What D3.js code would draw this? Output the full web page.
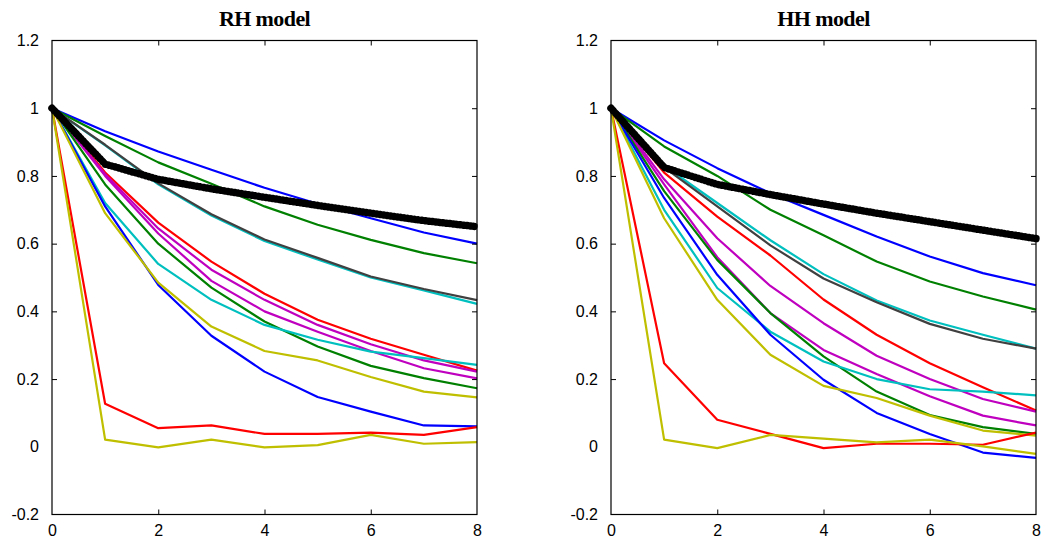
<!DOCTYPE html>
<html><head><meta charset="utf-8">
<script src="https://cdn.jsdelivr.net/npm/d3@7"></script>
<style>body{margin:0;background:#fff}</style>
</head><body><svg id="c" width="1045" height="540"></svg>
<script>
const steps = [0,1,2,3,4,5,6,7,8];
const xTicks = [0,2,4,6,8];
const yTicks = [-0.2,0,0.2,0.4,0.6,0.8,1,1.2];
const titles = ["RH model","HH model"];
const seriesNames = ["blue1","green1","cyan1","gray","red1","mag1","mag2","green2","cyan2","blue2","yellow1","red2","yellow2"];
const seriesColors = ["#0000ff","#008000","#00bfbf","#404040","#ff0000","#bf00bf","#bf00bf","#008000","#00bfbf","#0000ff","#bfbf00","#ff0000","#bfbf00"];

// RH model
const rhBlack  = [1,0.835,0.79,0.762,0.737,0.713,0.69,0.668,0.65];
const rhBlue1  = [1,0.932,0.872,0.818,0.765,0.718,0.675,0.633,0.60];
const rhGreen1 = [1,0.918,0.84,0.777,0.71,0.656,0.611,0.572,0.542];
const rhCyan1  = [1,0.89,0.775,0.683,0.608,0.553,0.50,0.462,0.422];
const rhGray   = [1,0.892,0.778,0.687,0.612,0.558,0.503,0.466,0.433];
const rhRed1   = [1,0.81,0.662,0.547,0.452,0.375,0.319,0.272,0.225];
const rhMag1   = [1,0.805,0.645,0.523,0.434,0.36,0.303,0.255,0.222];
const rhMag2   = [1,0.80,0.63,0.49,0.40,0.34,0.283,0.232,0.202];
const rhGreen2 = [1,0.775,0.60,0.47,0.37,0.296,0.239,0.203,0.173];
const rhCyan2  = [1,0.72,0.54,0.434,0.36,0.316,0.281,0.262,0.242];
const rhBlue2  = [1,0.71,0.478,0.328,0.222,0.147,0.104,0.063,0.06];
const rhYel1   = [1,0.69,0.485,0.355,0.283,0.255,0.206,0.163,0.146];
const rhRed2   = [1,0.127,0.055,0.063,0.038,0.038,0.042,0.035,0.058];
const rhYel2   = [1,0.021,-0.002,0.021,-0.002,0.005,0.035,0.009,0.014];

// HH model
const hhBlack  = [1,0.825,0.775,0.745,0.717,0.69,0.665,0.64,0.615];
const hhBlue1  = [1,0.905,0.823,0.749,0.685,0.621,0.562,0.513,0.477];
const hhGreen1 = [1,0.887,0.80,0.70,0.625,0.547,0.488,0.444,0.405];
const hhCyan1  = [1,0.83,0.72,0.61,0.51,0.432,0.373,0.331,0.29];
const hhGray   = [1,0.825,0.71,0.595,0.497,0.427,0.363,0.319,0.29];
const hhRed1   = [1,0.81,0.68,0.565,0.435,0.331,0.247,0.176,0.107];
const hhMag1   = [1,0.79,0.616,0.475,0.365,0.269,0.20,0.141,0.104];
const hhMag2   = [1,0.775,0.56,0.395,0.286,0.215,0.149,0.092,0.063];
const hhGreen2 = [1,0.755,0.552,0.395,0.267,0.163,0.094,0.058,0.038];
const hhCyan2  = [1,0.70,0.469,0.34,0.252,0.20,0.17,0.163,0.152];
const hhBlue2  = [1,0.735,0.508,0.331,0.198,0.10,0.038,-0.017,-0.033];
const hhYel1   = [1,0.675,0.434,0.272,0.18,0.144,0.092,0.048,0.033];
const hhRed2   = [1,0.247,0.08,0.038,-0.004,0.009,0.009,0.006,0.042];
const hhYel2   = [1,0.021,-0.004,0.035,0.024,0.013,0.021,0.001,-0.021];

const panels = [
  {title: titles[0], left: 52, black: rhBlack,
   lines: [rhBlue1,rhGreen1,rhCyan1,rhGray,rhRed1,rhMag1,rhMag2,rhGreen2,rhCyan2,rhBlue2,rhYel1,rhRed2,rhYel2]},
  {title: titles[1], left: 611, black: hhBlack,
   lines: [hhBlue1,hhGreen1,hhCyan1,hhGray,hhRed1,hhMag1,hhMag2,hhGreen2,hhCyan2,hhBlue2,hhYel1,hhRed2,hhYel2]}
];

const svg = d3.select("#c");
const W = 425, plotTop = 40.5, plotBottom = 514.5;
const y = d3.scaleLinear().domain([-0.2,1.2]).range([plotBottom, plotTop]);

panels.forEach(p => {
  const x = d3.scaleLinear().domain([0,8]).range([p.left, p.left + W]);
  const g = svg.append("g");
  const line = d3.line().x((d,i)=>x(steps[i])).y(d=>y(d));

  p.lines.forEach((s,k) => {
    g.append("path").attr("d", line(s)).attr("fill","none")
      .attr("stroke", seriesColors[k]).attr("stroke-width", 2.2)
      .attr("stroke-linejoin","round");
  });
  g.append("path").attr("d", line(p.black)).attr("fill","none")
    .attr("stroke","#000").attr("stroke-width",5.5).attr("stroke-linejoin","round");
  g.append("path").attr("d", line(p.black)).attr("fill","none")
    .attr("stroke","#000").attr("stroke-width",7.5).attr("stroke-linecap","round")
    .attr("stroke-dasharray","0.1 3.4");

  g.append("rect").attr("x", p.left).attr("y", plotTop).attr("width", W).attr("height", plotBottom-plotTop)
    .attr("fill","none").attr("stroke","#000").attr("stroke-width",1.2);

  const fontFam = "'Liberation Sans', Arial, sans-serif";
  const ax = [
    g.append("g").attr("transform",`translate(0,${plotBottom})`).call(d3.axisBottom(x).tickValues(xTicks).tickSize(-5).tickPadding(10).tickFormat(d3.format("d"))),
    g.append("g").attr("transform",`translate(0,${plotTop})`).call(d3.axisTop(x).tickValues(xTicks).tickSize(-5).tickFormat("")),
    g.append("g").attr("transform",`translate(${p.left},0)`).call(d3.axisLeft(y).tickValues(yTicks).tickSize(-5).tickPadding(13).tickFormat(d => String(+d.toFixed(1)))),
    g.append("g").attr("transform",`translate(${p.left+W},0)`).call(d3.axisRight(y).tickValues(yTicks).tickSize(-5).tickFormat(""))
  ];
  ax.forEach(a => {
    a.select(".domain").remove();
    a.selectAll(".tick line").attr("stroke","#000").attr("stroke-width",1);
    a.selectAll("text").attr("font-family", fontFam).attr("font-size","16px").attr("fill","#000");
  });
  ax.forEach(a => a.selectAll(".tick").filter(d => d===0 || d===8 || Math.abs(d-1.2)<1e-9 || Math.abs(d+0.2)<1e-9).select("line").remove());

  g.append("text").attr("x", p.left + W/2).attr("y", 26).attr("text-anchor","middle")
    .attr("font-family","'Liberation Serif','Times New Roman',serif").attr("font-weight","bold")
    .attr("font-size","22px").attr("letter-spacing","-0.6px").text(p.title);
});
</script>
</body></html>
